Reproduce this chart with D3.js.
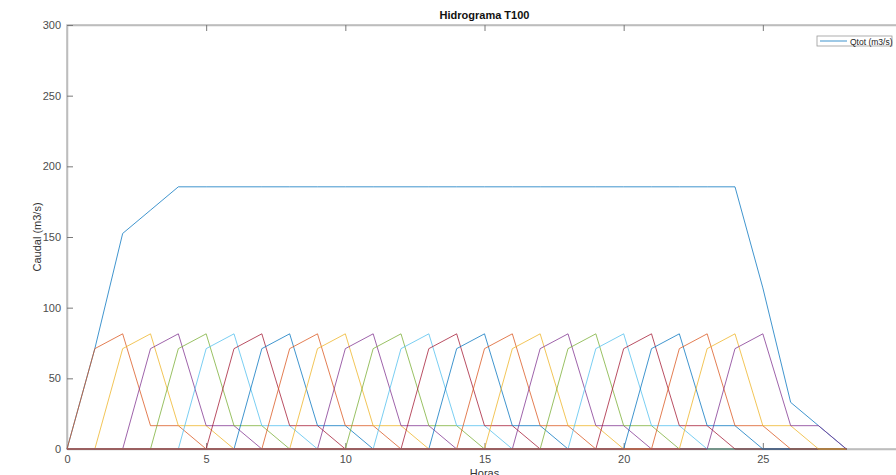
<!DOCTYPE html>
<html>
<head>
<meta charset="utf-8">
<script src="https://cdn.jsdelivr.net/npm/d3@7"></script>
<style>
    body { margin: 0; background: #fff; }
    svg { display: block; font-family: Arial, "Liberation Sans", sans-serif; }
</style>
</head>
<body>
<svg id="chart" width="896" height="475"></svg>
<script>
// hours axis
var hours = [0,1,2,3,4,5,6,7,8,9,10,11,12,13,14,15,16,17,18,19,20,21,22,23,24,25,26,27,28]

// total discharge
var qtot = [0, 71, 152.5, 169, 185.5, 185.5, 185.5, 185.5, 185.5, 185.5, 185.5, 185.5, 185.5, 185.5,
    185.5, 185.5, 185.5, 185.5, 185.5, 185.5, 185.5, 185.5, 185.5, 185.5, 185.5, 114, 33, 16.5, 0]

// one elementary hydrograph, hours after its start
var unitHydro = [0, 71, 81.5, 16.5, 16.5, 0]
// start hour of each elementary hydrograph
var starts = [0,1,2,3,4,5,6,7,8,9,10,11,12,13,14,15,16,17,18,19,20,21,22,23]

var xTicks = [0, 5, 10, 15, 20, 25, 30]
var yTicks = [0, 50, 100, 150, 200, 250, 300]

var colors = ["#0072BD", "#D95319", "#EDB120", "#7E2F8E", "#77AC30", "#4DBEEE", "#A2142F"]

var svg = d3.select("svg#chart")
var margin = {left: 67, top: 25, right: 902, bottom: 449}

var x = d3.scaleLinear().domain([0, 30]).range([margin.left, margin.right])
var y = d3.scaleLinear().domain([0, 300]).range([margin.bottom, margin.top])

var axisColor = "#bdbdbd"
var tickLen = 6

// box
svg.append("rect")
    .attr("x", margin.left).attr("y", margin.top)
    .attr("width", margin.right - margin.left).attr("height", margin.bottom - margin.top)
    .attr("fill", "none").attr("stroke", axisColor).attr("stroke-width", 1.5)

// x axis, ticks inward both sides (30 falls outside the window)
var xAxis = svg.append("g").attr("transform", "translate(0," + margin.bottom + ")")
    .call(d3.axisBottom(x).tickValues(xTicks).tickSizeInner(-tickLen).tickSizeOuter(0).tickPadding(6)
        .tickFormat(function(d) { return d < 30 ? d : "" }))
var xTop = svg.append("g").attr("transform", "translate(0," + margin.top + ")")
    .call(d3.axisTop(x).tickValues(xTicks).tickSizeInner(-tickLen).tickSizeOuter(0).tickFormat(""))
var yAxis = svg.append("g").attr("transform", "translate(" + margin.left + ",0)")
    .call(d3.axisLeft(y).tickValues(yTicks).tickSizeInner(-tickLen).tickSizeOuter(0).tickPadding(6))
var yRight = svg.append("g").attr("transform", "translate(" + margin.right + ",0)")
    .call(d3.axisRight(y).tickValues(yTicks).tickSizeInner(-tickLen).tickSizeOuter(0).tickFormat(""))

;[xAxis, xTop, yAxis, yRight].forEach(function(a) {
    a.select(".domain").attr("stroke", axisColor).attr("stroke-width", 1.5)
    a.selectAll(".tick line").attr("stroke", "#7a7a7a")
    a.selectAll(".tick text").attr("fill", "#4d4d4d").style("font-size", "11px")
})

var line = d3.line()
    .x(function(d) { return x(d[0]) })
    .y(function(d) { return y(d[1]) })

var lines = svg.append("g")

lines.append("path")
    .datum(hours.map(function(h, i) { return [h, qtot[i]] }))
    .attr("d", line).attr("fill", "none")
    .attr("stroke", colors[0]).attr("stroke-width", 1).attr("opacity", 0.75)

starts.forEach(function(s, k) {
    var pts = hours.map(function(h) {
        var j = h - s
        var v = (j >= 0 && j < unitHydro.length) ? unitHydro[j] : 0
        return [h, v]
    })
    lines.append("path")
        .datum(pts)
        .attr("d", line).attr("fill", "none")
        .attr("stroke", colors[(k + 1) % colors.length])
        .attr("stroke-width", 1).attr("opacity", 0.75)
})

// title and labels
svg.append("text").attr("x", (margin.left + margin.right) / 2).attr("y", 19)
    .attr("text-anchor", "middle").style("font-size", "11px").style("font-weight", "bold")
    .attr("fill", "#111").text("Hidrograma T100")

svg.append("text").attr("x", (margin.left + margin.right) / 2).attr("y", 477)
    .attr("text-anchor", "middle").style("font-size", "11px").attr("fill", "#333").text("Horas")

svg.append("text")
    .attr("transform", "translate(41," + (margin.top + margin.bottom) / 2 + ") rotate(-90)")
    .attr("text-anchor", "middle").style("font-size", "11px").attr("fill", "#333").text("Caudal (m3/s)")

// legend
var lg = svg.append("g").attr("transform", "translate(817,36)")
lg.append("rect").attr("width", 75).attr("height", 10)
    .attr("fill", "#fff").attr("stroke", "#9a9a9a").attr("stroke-width", 0.8)
lg.append("line").attr("x1", 3).attr("x2", 30).attr("y1", 5).attr("y2", 5)
    .attr("stroke", colors[0]).attr("opacity", 0.75)
lg.append("text").attr("x", 33).attr("y", 8.5).style("font-size", "8.5px")
    .attr("fill", "#222").text("Qtot (m3/s)")
</script>
</body>
</html>
